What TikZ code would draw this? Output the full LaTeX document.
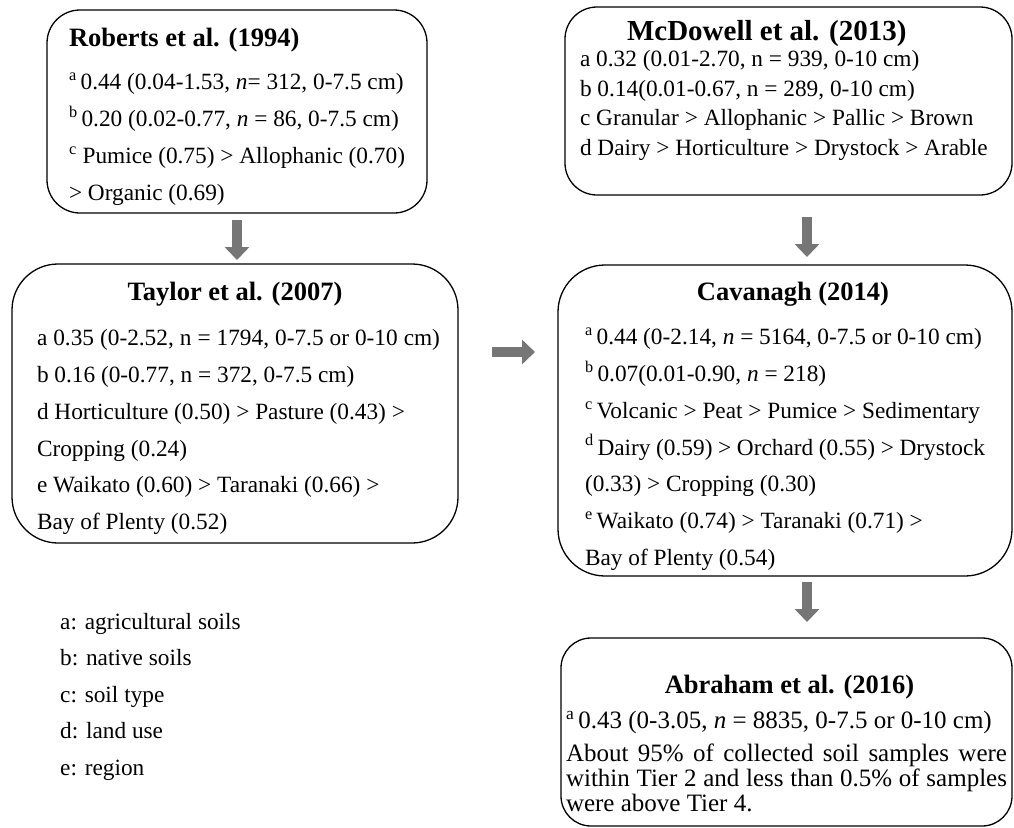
\documentclass[tikz,border=0pt]{standalone}
\usepackage{fontspec}
\setmainfont{Liberation Serif}
\usetikzlibrary{arrows.meta}
\definecolor{arrowgray}{RGB}{118,118,118}
\newcommand{\boxtitle}[1]{{\fontsize{26.5pt}{36.7pt}\selectfont\bfseries #1}}
\newcommand{\boxtitlec}[2][0pt]{\makebox[\linewidth]{\hspace*{#1}\boxtitle{#2}}}

\begin{document}
\begin{tikzpicture}[x=1pt,y=-1pt,
card/.style={draw,line width=1.3pt,anchor=north west,align=flush left,
inner ysep=0pt,outer sep=0pt,font=\fontsize{23.3pt}{36.7pt}\selectfont},
bigarrow/.style={-{Triangle[width=24pt,length=13pt]},line width=10pt,
draw=arrowgray}]

\path[use as bounding box] (0,0) rectangle (1014,827);

%left column
\node[card,rounded corners=33pt,inner xsep=22pt,text width=336pt,
text height=36.8pt,text depth=166.2pt] (R94) at (47,10) {%
  \boxtitle{Roberts et al. (1994)}\\[6.4pt]
  \textsuperscript{a}\,0.44 (0.04-1.53, \textit{n}= 312, 0-7.5 cm)\\
  \textsuperscript{b}\,0.20 (0.02-0.77, \textit{n} = 86, 0-7.5 cm)\\
  \textsuperscript{c} Pumice (0.75) > Allophanic (0.70)\\
  > Organic (0.69)};

\node[card,rounded corners=46pt,inner xsep=25pt,text width=396pt,
text height=36.8pt,text depth=242.2pt] (T07) at (12,264) {%
  \boxtitlec{Taylor et al. (2007)}\\[8.4pt]
  \makebox[403pt][s]{a 0.35 (0-2.52, n = 1794, 0-7.5 or 0-10 cm)}\\
  b 0.16 (0-0.77, n = 372, 0-7.5 cm)\\
  d Horticulture (0.50) > Pasture (0.43) >\\
  Cropping (0.24)\\
  e Waikato (0.60) > Taranaki (0.66) >\\
  Bay of Plenty (0.52)};

\node[anchor=base west,text width=320pt,align=flush left,inner sep=0pt,
font=\fontsize{23.3pt}{36.6pt}\selectfont] (leg) at (60,629) {%
  a: agricultural soils\\
  b: native soils\\
  c: soil type\\
  d: land use\\
  e: region};

%right column
\node[card,rounded corners=32pt,inner xsep=15pt,text width=417pt,
font=\fontsize{23.3pt}{29.5pt}\selectfont,
text height=33.8pt,text depth=154.2pt] (M13) at (565,7) {%
  \hspace*{47pt}{\fontsize{29pt}{29.5pt}\selectfont\bfseries McDowell et al. (2013)}\\[-3.4pt]
  a 0.32 (0.01-2.70, n = 939, 0-10 cm)\\
  b 0.14(0.01-0.67, n = 289, 0-10 cm)\\
  c Granular > Allophanic > Pallic > Brown\\
  d Dairy > Horticulture > Drystock > Arable};

\node[card,rounded corners=47pt,inner xsep=27pt,text width=400pt,
text height=35.8pt,text depth=275.2pt] (C14) at (558,265) {%
  \boxtitlec[16pt]{Cavanagh (2014)}\\[7.4pt]
  \textsuperscript{a}\,0.44 (0-2.14, \textit{n} = 5164, 0-7.5 or 0-10 cm)\\
  \textsuperscript{b}\,0.07(0.01-0.90, \textit{n} = 218)\\
  \textsuperscript{c}\,Volcanic > Peat > Pumice > Sedimentary\\
  \textsuperscript{d}\,Dairy (0.59) > Orchard (0.55) > Drystock\\
  (0.33) > Cropping (0.30)\\
  \textsuperscript{e}\,Waikato (0.74) > Taranaki (0.71) >\\
  Bay of Plenty (0.54)};

\node[card,rounded corners=30pt,inner xsep=5pt,text width=441pt,
align=justify,font=\fontsize{25pt}{25.3pt}\selectfont,
text height=55.8pt,text depth=132.2pt] (A16) at (561,638) {%
  \boxtitlec[6pt]{Abraham et al. (2016)}\\[9.4pt]
  \textsuperscript{a}\,0.43 (0-3.05, \textit{n} = 8835, 0-7.5 or 0-10 cm)\\[7.5pt]
  About 95\% of collected soil samples were\linebreak
  within Tier 2 and less than 0.5\% of samples\linebreak
  were above Tier 4.};

%arrows
\draw[bigarrow,shorten <=7pt,shorten >=4pt] (R94.south) -- (R94.south |- T07.north);
\draw[bigarrow,shorten <=22pt,shorten >=8pt] ([xshift=18.5pt]M13.south) -- ([xshift=22pt]C14.north);
\draw[bigarrow,shorten <=6pt,shorten >=16pt] ([xshift=22pt]C14.south) -- ([xshift=20.5pt]A16.north);
\draw[bigarrow,shorten <=34pt,shorten >=23pt] ([yshift=51.5pt]T07.east) -- ([yshift=68.5pt]C14.west);

\end{tikzpicture}
\end{document}
